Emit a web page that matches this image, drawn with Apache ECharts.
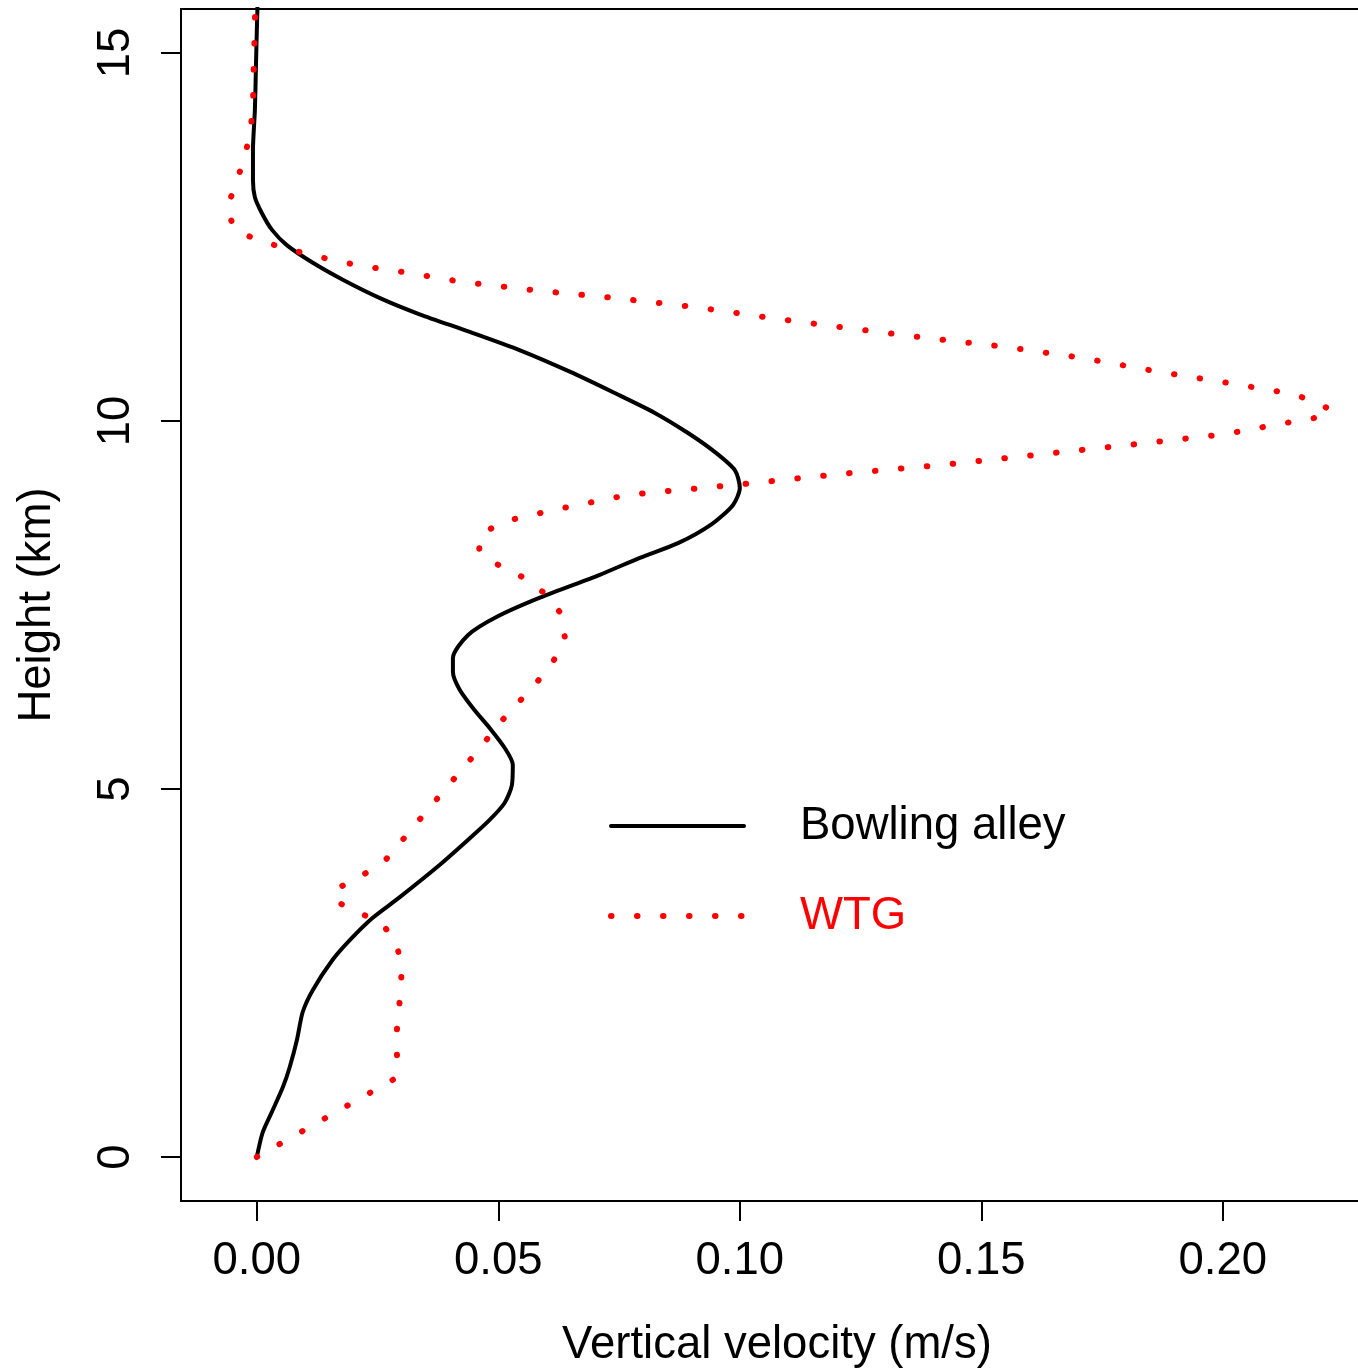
<!DOCTYPE html>
<html>
<head>
<meta charset="utf-8">
<script src="https://cdn.jsdelivr.net/npm/echarts@6/dist/echarts.min.js"></script>
<style>
  html, body { margin: 0; padding: 0; background: #fff; overflow: hidden; }
  #chart { width: 1358px; height: 1370px; }
</style>
</head>
<body>
<div id="chart"></div>
<script>
// ---- Data ----
const seriesNames = ['Bowling alley', 'WTG'];

// Bowling alley profile: vertical velocity (m/s) vs height (km)
const bowlingVelocity = [0.0000, 0.0012, 0.0031, 0.0054, 0.0068, 0.0083, 0.0095, 0.0116, 0.0157, 0.0193,
  0.0240, 0.0296, 0.0379, 0.0441, 0.0482, 0.0513, 0.0528, 0.0530, 0.0513, 0.0482,
  0.0451, 0.0420, 0.0406, 0.0406, 0.0437, 0.0497, 0.0586, 0.0710, 0.0793, 0.0872,
  0.0942, 0.0986, 0.1000, 0.0990, 0.0948, 0.0892, 0.0824, 0.0741, 0.0648, 0.0545,
  0.0441, 0.0337, 0.0255, 0.0178, 0.0116, 0.0062, 0.0031, 0.0010, -0.0004, -0.0008,
  -0.0008, -0.0004, -0.0002, 0.0000, 0.0003];
const bowlingHeight = [0.00, 0.33, 0.61, 0.95, 1.22, 1.59, 1.97, 2.27, 2.68, 2.95,
  3.25, 3.53, 3.97, 4.33, 4.58, 4.81, 5.05, 5.33, 5.56, 5.83,
  6.07, 6.35, 6.59, 6.78, 7.09, 7.34, 7.60, 7.91, 8.14, 8.34,
  8.60, 8.86, 9.09, 9.33, 9.58, 9.84, 10.11, 10.38, 10.67, 10.96,
  11.21, 11.45, 11.67, 11.92, 12.15, 12.39, 12.60, 12.83, 13.04, 13.27,
  13.68, 14.23, 14.77, 15.31, 16.00];

// WTG profile
const wtgVelocity = [0.0000, 0.0282, 0.0292, 0.0288, 0.0292, 0.0298, 0.0300, 0.0288, 0.0257, 0.0207,
  0.0159, 0.0176, 0.0224, 0.0267, 0.0302, 0.0371, 0.0441, 0.0509, 0.0580, 0.0615,
  0.0638, 0.0629, 0.0596, 0.0553, 0.0503, 0.0460, 0.0464, 0.0509, 0.0561, 0.0613,
  0.0772, 0.0988, 0.1207, 0.1414, 0.1627, 0.1841, 0.2004, 0.2110, 0.2215, 0.2224,
  0.2182, 0.2133, 0.2027, 0.1867, 0.1706, 0.1547, 0.1385, 0.1226, 0.1064, 0.0905,
  0.0743, 0.0584, 0.0424, 0.0317, 0.0213, 0.0108, 0.0004, -0.0046, -0.0062, -0.0043,
  -0.0027, -0.0014, -0.0008, -0.0006, -0.0004, -0.0003];
const wtgHeight = [0.00, 1.05, 1.24, 1.56, 1.89, 2.24, 2.60, 2.92, 3.19, 3.33,
  3.49, 3.68, 3.85, 4.04, 4.31, 4.85, 5.39, 5.94, 6.45, 6.75,
  7.05, 7.39, 7.66, 7.87, 8.03, 8.23, 8.46, 8.63, 8.71, 8.79,
  9.00, 9.13, 9.28, 9.40, 9.55, 9.70, 9.82, 9.95, 10.07, 10.15,
  10.29, 10.38, 10.50, 10.67, 10.86, 11.01, 11.13, 11.26, 11.40, 11.55,
  11.67, 11.77, 11.89, 12.01, 12.11, 12.26, 12.45, 12.60, 12.89, 13.23,
  13.55, 13.89, 14.27, 14.95, 15.30, 16.00];

const xTicks = [0, 0.05, 0.10, 0.15, 0.20];
const yTicks = [0, 5, 10, 15];
const xTitle = 'Vertical velocity (m/s)';
const yTitle = 'Height (km)';

// ---- Build ----
const pair = (xs, ys) => xs.map((v, i) => [v, ys[i]]);
const FONT = 'Liberation Sans, Arial, Helvetica, sans-serif';
const FS = 45.5;

const chart = echarts.init(document.getElementById('chart'), null, { renderer: 'canvas' });
chart.setOption({
  backgroundColor: '#ffffff',
  animation: false,
  textStyle: { fontFamily: FONT },
  grid: {
    left: 181, right: -15, top: 9, bottom: 169,
    outerBoundsMode: 'none',
    show: true, borderColor: '#000', borderWidth: 2, backgroundColor: 'transparent',
    containLabel: false
  },
  xAxis: {
    type: 'value',
    min: -0.0157, max: 0.2311,
    splitLine: { show: false },
    axisLine: { show: false, onZero: false },
    axisTick: { show: true, length: 20, lineStyle: { color: '#000', width: 2 }, customValues: xTicks },
    axisLabel: {
      customValues: xTicks, margin: 37, color: '#000', fontSize: FS, fontFamily: FONT,
      formatter: v => v.toFixed(2)
    },
    name: xTitle, nameLocation: 'middle', nameGap: 121,
    nameTextStyle: { color: '#000', fontSize: FS, fontFamily: FONT }
  },
  yAxis: {
    type: 'value',
    min: -0.598, max: 15.598,
    splitLine: { show: false },
    axisLine: { show: false, onZero: false },
    axisTick: { show: true, length: 20, lineStyle: { color: '#000', width: 2 }, customValues: yTicks },
    axisLabel: {
      customValues: yTicks, rotate: 90, margin: 42, color: '#000', fontSize: FS, fontFamily: FONT,
      formatter: v => String(v)
    },
    name: yTitle, nameLocation: 'middle', nameGap: 121,
    nameTextStyle: { color: '#000', fontSize: FS, fontFamily: FONT }
  },
  legend: {
    orient: 'vertical',
    left: 608, top: 801,
    padding: 0,
    itemWidth: 133, itemHeight: 20, itemGap: 40,
    itemStyle: { color: 'rgba(0,0,0,0)', borderWidth: 0, opacity: 0 },
    textStyle: { fontSize: FS, fontFamily: FONT, lineHeight: 50, padding: [0, 0, 0, 51] },
    data: [
      { name: seriesNames[0], textStyle: { color: '#000' }, lineStyle: { width: 4 } },
      { name: seriesNames[1], textStyle: { color: '#ff0000' }, lineStyle: { width: 6 } }
    ]
  },
  series: [
    {
      name: seriesNames[0], type: 'line', data: pair(bowlingVelocity, bowlingHeight),
      symbol: 'none', clip: true, smooth: 0.25,
      lineStyle: { color: '#000', width: 4, cap: 'round', join: 'round' },
      itemStyle: { color: '#000' }
    },
    {
      name: seriesNames[1], type: 'line', data: pair(wtgVelocity, wtgHeight),
      symbol: 'none', clip: true,
      lineStyle: { color: '#ff0000', width: 6, type: [0.5, 25.5], cap: 'round', join: 'round' },
      itemStyle: { color: '#ff0000' }
    }
  ]
});
</script>
</body>
</html>
